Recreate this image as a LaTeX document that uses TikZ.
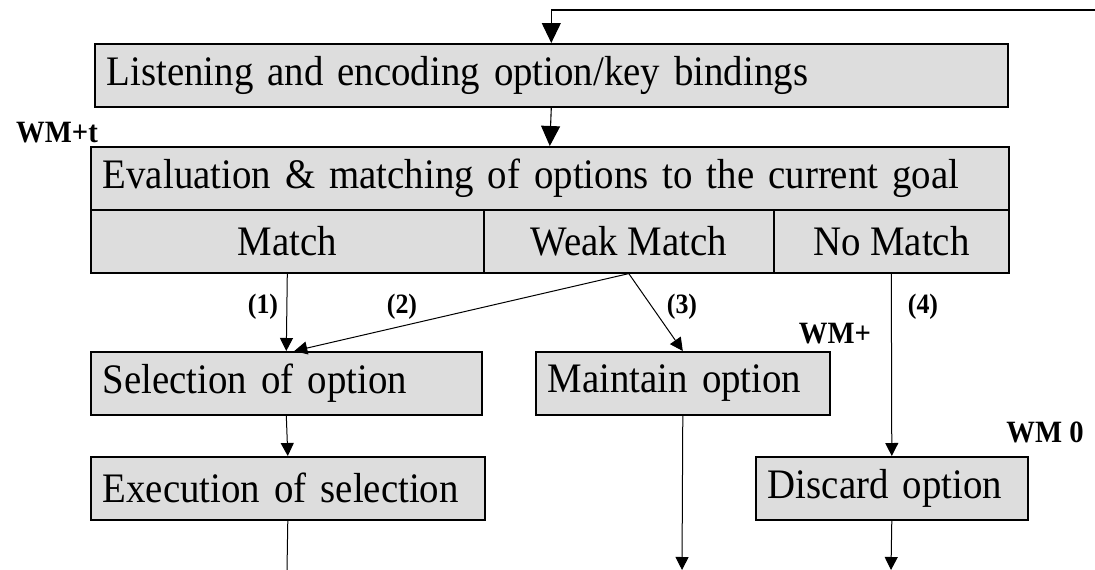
\documentclass[tikz,border=0pt]{standalone}
\usepackage{fontspec}
\setmainfont{Liberation Serif}[FakeStretch=0.925]
\usetikzlibrary{arrows.meta}
\definecolor{boxgray}{HTML}{DDDDDD}
\begin{document}
\begin{tikzpicture}[x=1pt,y=-1pt,
  box/.style={draw=black, fill=boxgray, line width=1.6pt, inner xsep=12pt, inner ysep=0pt,
    font=\fontsize{42}{46}\selectfont, anchor=north west, align=left},
  cell/.style={draw=black, fill=boxgray, line width=1.6pt, inner sep=0pt,
    font=\fontsize{42}{46}\selectfont, anchor=north west, align=center},
  conn/.style={line width=1pt, -{Triangle[length=13pt,width=13pt]}},
  bigconn/.style={line width=1.1pt, -{Triangle[length=20pt,width=19pt]}},
  plain/.style={line width=1pt},
  numlbl/.style={font=\bfseries\fontsize{28}{30}\selectfont},
  wmlbl/.style={font=\bfseries\fontsize{31}{33}\selectfont}]
\useasboundingbox (0,0) rectangle (1095,570);

\node[box, text width=889pt, minimum height=63pt] (listen) at (94,43) {Listening and encoding option/key bindings};
\node[box, text width=894pt, minimum height=63pt] (eval) at (90,146) {Evaluation \& matching of options to the current goal};
\node[cell, minimum width=393pt, minimum height=63pt] (match) at (90,209) {Match};
\node[cell, minimum width=290pt, minimum height=63pt] (weak) at (483,209) {Weak Match};
\node[cell, minimum width=235pt, minimum height=63pt] (nomatch) at (773,209) {No Match};

\node[box, text width=367pt, minimum height=63pt] (sel) at (90,351) {Selection of option};
\node[box, text width=270pt, minimum height=63pt] (maint) at (535,351) {Maintain option};
\node[box, text width=370pt, minimum height=63pt] (exec) at (90,456) {Execution of selection};
\node[box, text width=248pt, minimum height=63pt] (disc) at (755,456) {Discard option};

\coordinate (topright) at (1095,10);
\coordinate (endexec) at (287,570);
\coordinate (endmaint) at (682,570);
\coordinate (enddisc) at (891,570);

\draw[bigconn] (topright) -| (listen.north);
\draw[bigconn] (listen.south) -- (eval.north);
\draw[conn] (match.south) -- (sel.north);
\draw[conn] (weak.south) -- ([xshift=8pt]sel.north);
\draw[conn] (weak.south) -- (maint.north);
\draw[conn] (nomatch.south) -- (disc.north);
\draw[conn] (sel.south) -- (exec.north);
\draw[plain] (exec.south) -- (endexec);
\draw[conn] (maint.south) -- (endmaint);
\draw[conn] (disc.south) -- (enddisc);

\node[numlbl] (l1) at (263,307) {(1)};
\node[numlbl] (l2) at (402,307) {(2)};
\node[numlbl] (l3) at (682,307) {(3)};
\node[numlbl] (l4) at (923,307) {(4)};
\node[wmlbl] (wmt) at (57,133) {WM+t};
\node[wmlbl] (wmp) at (835,334) {WM+};
\node[wmlbl] (wm0) at (1045,432) {WM 0};
\end{tikzpicture}
\end{document}
